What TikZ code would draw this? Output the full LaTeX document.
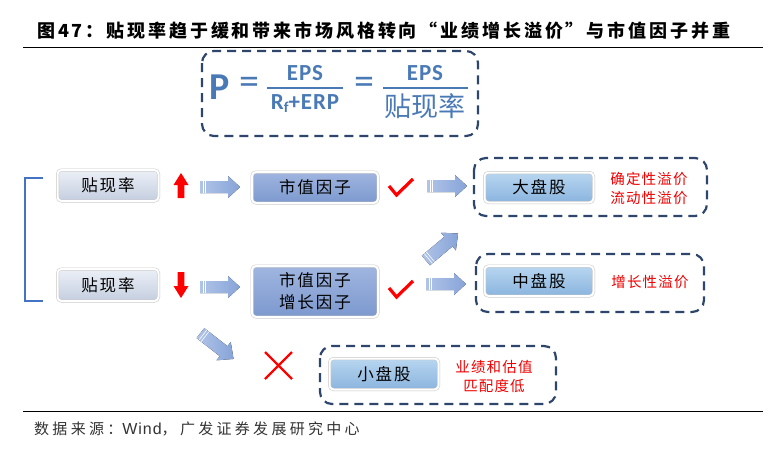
\documentclass[tikz,border=0pt]{standalone}
\usepackage{fontspec}
\setmainfont{Liberation Sans}
\newfontfamily\cjk{Noto Sans CJK SC}
\newfontfamily\cjkbox[LetterSpace=12]{Noto Sans CJK SC}
\newfontfamily\cjkred[LetterSpace=8]{Noto Sans CJK SC}
\newfontfamily\cjktitle[LetterSpace=16]{Noto Sans CJK SC}
\newfontfamily\cjksrc[LetterSpace=22]{Noto Sans CJK SC}
\newfontfamily\srclat[LetterSpace=6]{Liberation Sans}
\newfontfamily\calib{Carlito}
\newfontfamily\calibw[LetterSpace=4]{Carlito}
\definecolor{navy}{RGB}{46,70,108}
\definecolor{fblue}{RGB}{74,122,182}
\definecolor{brk}{RGB}{68,114,196}
\definecolor{arrL}{RGB}{176,196,232}
\definecolor{arrR}{RGB}{135,164,216}
\definecolor{gT}{RGB}{236,240,247}
\definecolor{gB}{RGB}{196,206,224}
\definecolor{mT}{RGB}{160,182,224}
\definecolor{mB}{RGB}{124,152,206}
\definecolor{lT}{RGB}{184,214,240}
\definecolor{lB}{RGB}{138,180,222}
\definecolor{rtxt}{RGB}{240,0,0}
\tikzset{
  dbox/.style={draw=navy, line width=2.2pt, dash pattern=on 9pt off 6pt, rounded corners=12pt},
  boxbase/.style={rounded corners=4pt, draw=black!22, line width=0.5pt, double=white, double distance=2pt, inner sep=0pt, align=center, font=\cjkbox\fontsize{16.5}{22}\selectfont, text=black},
  graybox/.style={boxbase, top color=gT, bottom color=gB},
  midbox/.style={boxbase, top color=mT, bottom color=mB},
  lightbox/.style={boxbase, top color=lT, bottom color=lB},
  redtxt/.style={font=\cjkred\fontsize{14.5}{19}\selectfont, text=rtxt, align=center},
  barrow/.pic={
    \fill[left color=arrL, right color=arrR] (-20,-6) -- (8,-6) -- (8,-11) -- (20,0) -- (8,11) -- (8,6) -- (-20,6) -- cycle;
    \draw[white, line width=0.6pt] (-17,-6) -- (-17,6) (-14.5,-6) -- (-14.5,6);
  },
  fml/.style={font=\calibw\bfseries\fontsize{23}{24}\selectfont, text=fblue, inner sep=0pt},
}
\begin{document}
\begin{tikzpicture}[x=1pt,y=-1pt]
\useasboundingbox (0,0) rectangle (783,453);
\fill[white] (0,0) rectangle (783,453);

% title and rules
\node[anchor=west, inner sep=0pt, font=\cjktitle\bfseries\fontsize{18}{20}\selectfont] (title) at (37,31) {图47：贴现率趋于缓和带来市场风格转向“业绩增长溢价”与市值因子并重};
\coordinate (r1a) at (23,47.5);
\coordinate (r1b) at (763,47.5);
\draw[black, line width=1pt] (r1a) -- (r1b);
\coordinate (r2a) at (23,411.5);
\coordinate (r2b) at (763,411.5);
\draw[black, line width=1pt] (r2a) -- (r2b);
\node[anchor=west, inner sep=0pt, font=\cjksrc\fontsize{15}{17}\selectfont, text=black!80] (src) at (34,429) {数据来源：{\srclat\fontsize{16}{17}\selectfont Wind}，广发证券发展研究中心};

% formula box
\draw[dbox] (202,51) rectangle (478,136);
\node[fml, font=\calib\bfseries\fontsize{38}{38}\selectfont] (P) at (220,87) {P};
\node[fml, font=\calib\fontsize{40}{40}\selectfont] (eq1) at (249,86) {=};
\node[fml] (n1) at (305,73) {EPS};
\node[fml] (d1) at (305,104) {R\raisebox{-3pt}{\fontsize{15}{15}\selectfont f}+ERP};
\draw[fblue, line width=1.4pt] (267,88) -- (343,88);
\node[fml, font=\calib\fontsize{40}{40}\selectfont] (eq2) at (364,86) {=};
\node[fml] (n2) at (425,73) {EPS};
\node[inner sep=0pt, text=fblue, font=\cjk\fontsize{27}{27}\selectfont] (d2) at (425,106) {贴现率};
\draw[fblue, line width=1.4pt] (383,88) -- (468,88);

% bracket
\coordinate (b1) at (43,178);
\coordinate (b2) at (25,178);
\coordinate (b3) at (25,301);
\coordinate (b4) at (43,301);
\draw[brk, line width=2.6pt] (b1) -- (b2) -- (b3) -- (b4);

% left boxes
\node[graybox, minimum width=101pt, minimum height=31pt] (dr1) at (108,185.5) {贴现率};
\node[graybox, minimum width=101pt, minimum height=32pt] (dr2) at (108,285) {贴现率};

% red arrows
\fill[red] (181,173) -- (188.5,185) -- (184.3,185) -- (184.3,198) -- (177.7,198) -- (177.7,185) -- (173.5,185) -- cycle;
\fill[red] (181,298) -- (188.5,286) -- (184.3,286) -- (184.3,272) -- (177.7,272) -- (177.7,286) -- (173.5,286) -- cycle;

% block arrows
\pic at (220,187) {barrow};
\pic at (220,287) {barrow};
\pic at (447,186) {barrow};
\pic at (446,284) {barrow};
\pic[rotate=40, scale=1.05] at (442,247) {barrow};
\pic[rotate=-38, scale=1.05] at (217,346) {barrow};

% factor boxes
\node[midbox, minimum width=126pt, minimum height=31pt] (f1) at (315,187.5) {市值因子};
\node[midbox, minimum width=126pt, minimum height=51pt] (f2) at (315,291.5) {市值因子\\增长因子};

% checks and cross
\draw[red, line width=3.2pt, line join=miter] (389,186) -- (396.5,195) -- (413,179);
\draw[red, line width=3.2pt, line join=miter] (389,288) -- (396.5,297) -- (413,281);
\draw[red, line width=2.2pt] (265,352) -- (292,379) (292,352) -- (265,379);

% dashed groups
\draw[dbox] (474,158) rectangle (707,216);
\draw[dbox] (476,254) rectangle (704,312);
\draw[dbox] (320,346) rectangle (556,404);

\node[lightbox, minimum width=109pt, minimum height=30pt] (L) at (539,187.5) {大盘股};
\node[lightbox, minimum width=109pt, minimum height=30pt] (M) at (539,281) {中盘股};
\node[lightbox, minimum width=109pt, minimum height=31pt] (S) at (384,374) {小盘股};

\node[redtxt] (tL) at (649,188) {确定性溢价\\流动性溢价};
\node[redtxt] (tM) at (650,282) {增长性溢价};
\node[redtxt] (tS) at (494,377) {业绩和估值\\匹配度低};
\end{tikzpicture}
\end{document}
